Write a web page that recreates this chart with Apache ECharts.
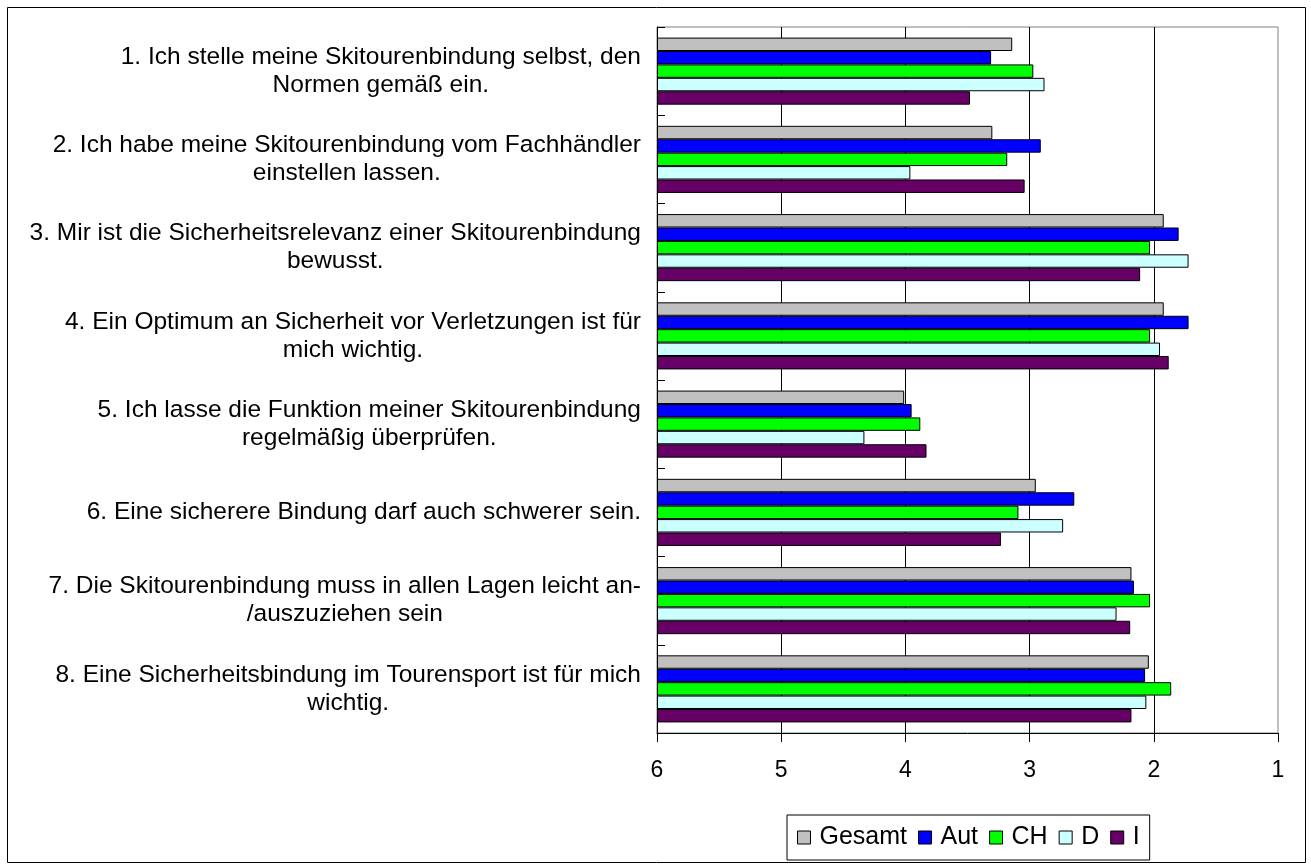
<!DOCTYPE html>
<html>
<head>
<meta charset="utf-8">
<script src="https://cdn.jsdelivr.net/npm/echarts@6/dist/echarts.min.js"></script>
<style>
    html, body { margin: 0; padding: 0; background: #fff; }
    #chartId { width: 1311px; height: 864px; }
</style>
</head>
<body>
<div id="chartId"></div>
<script>
// Fragen (Kategorien), von oben nach unten
const categories = [
    "1. Ich stelle meine Skitourenbindung selbst, den\nNormen gemäß ein.",
    "2. Ich habe meine Skitourenbindung vom Fachhändler\neinstellen lassen.",
    "3. Mir ist die Sicherheitsrelevanz einer Skitourenbindung\nbewusst.",
    "4. Ein Optimum an Sicherheit vor Verletzungen ist für\nmich wichtig.",
    "5. Ich lasse die Funktion meiner Skitourenbindung\nregelmäßig überprüfen.",
    "6. Eine sicherere Bindung darf auch schwerer sein.",
    "7. Die Skitourenbindung muss in allen Lagen leicht an-\n/auszuziehen sein",
    "8. Eine Sicherheitsbindung im Tourensport ist für mich\nwichtig."
];

// Mittelwerte (Skala 1..6)
const gesamt = [3.14, 3.30, 1.92, 1.92, 4.01, 2.95, 2.18, 2.04];
const aut    = [3.31, 2.91, 1.80, 1.72, 3.95, 2.64, 2.16, 2.07];
const ch     = [2.97, 3.18, 2.03, 2.03, 3.88, 3.09, 2.03, 1.86];
const d      = [2.88, 3.96, 1.72, 1.95, 4.33, 2.73, 2.30, 2.06];
const it     = [3.48, 3.04, 2.11, 1.88, 3.83, 3.23, 2.19, 2.18];

const xTicks = [6, 5, 4, 3, 2, 1];

const seriesNames = ["Gesamt", "Aut", "CH", "D", "I"];
const seriesData = [gesamt, aut, ch, d, it];
const colors = ["#C0C0C0", "#0000FF", "#00FF00", "#CCFFFF", "#660066"];

const font = "'Liberation Sans', Arial, sans-serif";

var chart = echarts.init(document.getElementById('chartId'));

// Achse läuft von 6 (links) nach 1 (rechts): Balken beginnen bei 6
let series = [];
let index = 0;
for (let vals of seriesData) {
    series.push({
        name: seriesNames[index],
        type: 'bar',
        data: vals.map(v => 6 - v),
        barGap: '0%',
        barCategoryGap: '24%',
        itemStyle: {
            color: colors[index],
            borderColor: '#000',
            borderWidth: 1
        }
    });
    index++;
}

var option = {
    animation: false,
    textStyle: { fontFamily: font, color: '#000' },
    graphic: [{
        type: 'rect',
        shape: { x: 7.5, y: 7.5, width: 1298, height: 855 },
        style: { fill: 'none', stroke: '#000', lineWidth: 1 },
        silent: true
    }],
    grid: {
        left: 657,
        right: 33,
        top: 27,
        bottom: 131,
        show: true,
        borderColor: '#808080',
        borderWidth: 1
    },
    legend: {
        data: seriesNames,
        left: 787,
        top: 815,
        icon: 'rect',
        itemWidth: 13,
        itemHeight: 13,
        itemGap: 11,
        padding: [10, 10],
        borderColor: '#000',
        borderWidth: 1,
        itemStyle: { borderColor: '#000', borderWidth: 1 },
        textStyle: { fontFamily: font, fontSize: 25, color: '#000', padding: [0, 0, 0, 4] }
    },
    xAxis: {
        type: 'value',
        min: 0,
        max: 5,
        interval: 1,
        axisLine: { show: true, lineStyle: { color: '#000', width: 1 } },
        axisTick: { show: true, length: 9, lineStyle: { color: '#000' } },
        axisLabel: {
            margin: 26,
            fontSize: 23,
            fontFamily: font,
            color: '#000',
            formatter: v => String(xTicks[v])
        },
        splitLine: {
            show: true,
            showMinLine: false,
            showMaxLine: false,
            lineStyle: { color: '#000', width: 1 }
        }
    },
    yAxis: {
        type: 'category',
        inverse: true,
        data: categories,
        axisLine: { show: true, lineStyle: { color: '#000', width: 1 } },
        axisTick: { show: true, inside: true, length: 8, lineStyle: { color: '#000' } },
        axisLabel: {
            margin: 16,
            fontSize: 24.5,
            fontFamily: font,
            color: '#000',
            lineHeight: 28,
            formatter: function (v) {
                return v.split('\n').map(l => '{c|' + l + '}').join('\n');
            },
            rich: {
                c: { align: 'center', fontSize: 24.5, fontFamily: font, color: '#000', lineHeight: 28 }
            }
        }
    },
    series: series
};

chart.setOption(option);
</script>
</body>
</html>
